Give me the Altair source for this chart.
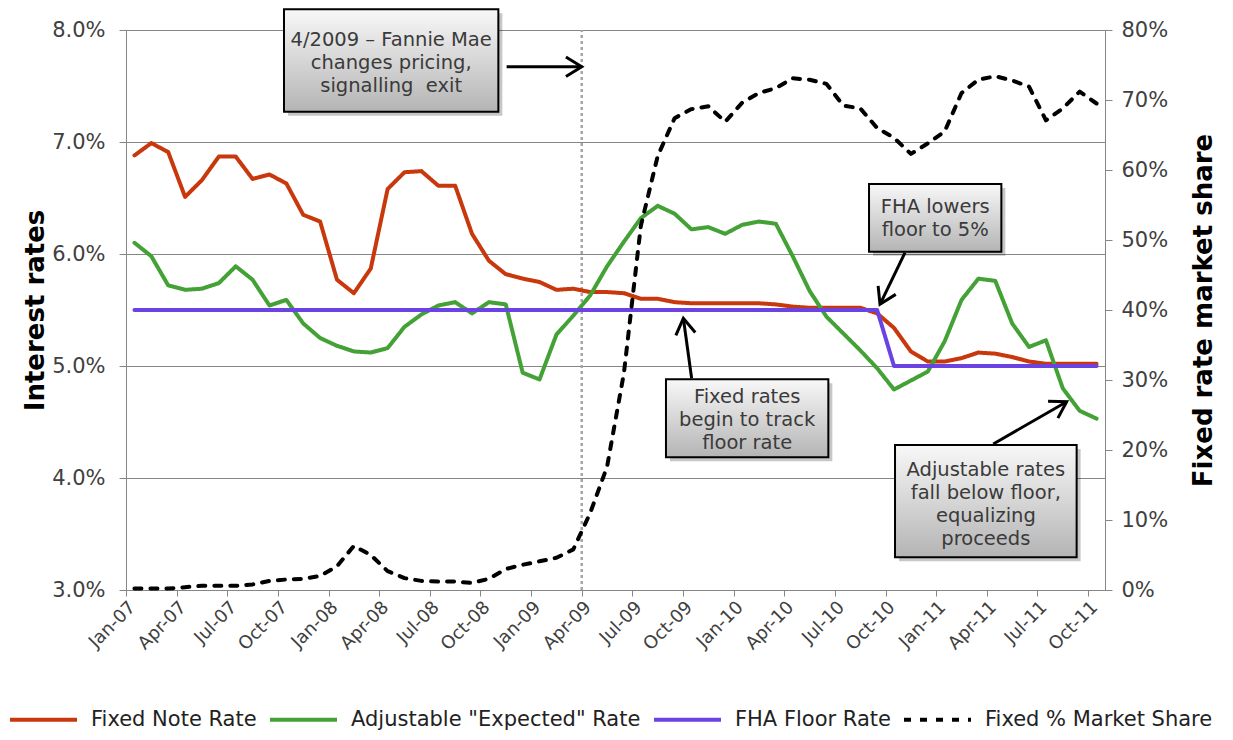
import altair as alt
import pandas as pd

# ---------------- data ----------------
series_names = ["Fixed Note Rate", 'Adjustable "Expected" Rate', "FHA Floor Rate", "Fixed % Market Share"]
series_colors = ["#C8380C", "#43A136", "#6B43E3", "#000000"]

tick_labels = ["Jan-07", "Apr-07", "Jul-07", "Oct-07", "Jan-08", "Apr-08", "Jul-08", "Oct-08",
               "Jan-09", "Apr-09", "Jul-09", "Oct-09", "Jan-10", "Apr-10", "Jul-10", "Oct-10",
               "Jan-11", "Apr-11", "Jul-11", "Oct-11"]

fixed_note = [6.88, 6.99, 6.91, 6.51, 6.66, 6.87, 6.87, 6.67, 6.71, 6.63,
              6.35, 6.29, 5.77, 5.65, 5.87, 6.58, 6.73, 6.74, 6.61, 6.61,
              6.18, 5.94, 5.82, 5.78, 5.75, 5.68, 5.69, 5.66, 5.66, 5.65,
              5.60, 5.60, 5.57, 5.56, 5.56, 5.56, 5.56, 5.56, 5.55, 5.53,
              5.52, 5.52, 5.52, 5.52, 5.47, 5.34, 5.13, 5.04, 5.04, 5.07,
              5.12, 5.11, 5.08, 5.04, 5.02, 5.02, 5.02, 5.02]

adjustable = [6.10, 5.98, 5.72, 5.68, 5.69, 5.74, 5.89, 5.77, 5.54, 5.59,
              5.38, 5.25, 5.18, 5.13, 5.12, 5.16, 5.35, 5.46, 5.54, 5.57,
              5.47, 5.57, 5.55, 4.94, 4.88, 5.28, 5.45, 5.63, 5.89, 6.11,
              6.32, 6.43, 6.36, 6.22, 6.24, 6.18, 6.26, 6.29, 6.27, 5.98,
              5.67, 5.44, 5.29, 5.14, 4.98, 4.79, 4.87, 4.95, 5.22, 5.59,
              5.78, 5.76, 5.38, 5.17, 5.23, 4.80, 4.60, 4.53]

fha_floor = [5.5] * 45 + [5.0] * 13

market_share = [0.2, 0.2, 0.2, 0.4, 0.6, 0.6, 0.6, 0.8, 1.3, 1.5,
                1.6, 2.0, 3.4, 6.3, 5.0, 2.7, 1.7, 1.3, 1.2, 1.2,
                1.0, 1.6, 3.0, 3.6, 4.1, 4.6, 5.8, 11.0, 17.6, 31.0,
                52.0, 62.0, 67.4, 68.7, 69.1, 66.9, 69.6, 71.0, 71.7, 73.1,
                72.9, 72.3, 69.2, 68.8, 66.0, 64.6, 62.3, 63.8, 65.5, 71.0,
                72.9, 73.4, 72.8, 71.9, 67.1, 68.8, 71.2, 69.5]

# annotations (positions in data units: month index, interest rate)
ann_text = ["4/2009 \u2013 Fannie Mae\nchanges pricing,\nsignalling\u00a0 exit",
            "FHA lowers\nfloor to 5%",
            "Fixed rates\nbegin to track\nfloor rate",
            "Adjustable rates\nfall below floor,\nequalizing\nproceeds"]
box_x1 = [9.36, 44.02, 31.99, 45.56]
box_x2 = [22.06, 51.86, 41.61, 56.32]
box_y1 = [8.185, 6.625, 4.881, 4.295]
box_y2 = [7.270, 6.020, 4.185, 3.292]
text_x = [15.71, 47.94, 36.80, 50.94]
text_y = [7.911, 6.422, 4.726, 4.071]   # first line of each label
arrow_x1 = [22.55, 46.15, 33.51, 51.38]
arrow_y1 = [7.672, 6.012, 4.890, 4.304]
arrow_x2 = [27.00, 44.67, 33.02, 55.73]
arrow_y2 = [7.672, 5.551, 5.426, 4.681]
arrow_angle = [0, 116, 262, 330]
event_month = [27]   # Apr-09 boundary

n_months = len(fixed_note)

# ---------------- tables ----------------
rates_rows = []
for name, vals in zip(series_names[:3], [fixed_note, adjustable, fha_floor]):
    for i, v in enumerate(vals):
        rates_rows.append({"x": i + 0.5, "value": v, "series": name})
rates_df = pd.DataFrame(rates_rows)
share_df = pd.DataFrame({"x": [i + 0.5 for i in range(n_months)], "value": market_share,
                         "series": series_names[3]})
boxes_df = pd.DataFrame({"x1": box_x1, "x2": box_x2, "y1": box_y1, "y2": box_y2})
text_df = pd.DataFrame({"x": text_x, "y": text_y, "label": ann_text})
arrows_df = pd.DataFrame({"x1": arrow_x1, "y1": arrow_y1, "x2": arrow_x2, "y2": arrow_y2,
                          "angle": arrow_angle})
vline_df = pd.DataFrame({"x": event_month, "lo": [3.0], "hi": [8.0]})

FONT = "DejaVu Sans"
AXIS_GRAY = "#868686"

label_array = "[" + ",".join("'%s'" % t for t in tick_labels) + "]"
x_scale = alt.Scale(domain=[0, n_months], nice=False, zero=False)
x_axis = alt.Axis(values=[3 * k for k in range(len(tick_labels))],
                  labelExpr=label_array + "[round(datum.value/3)]",
                  title=None, labelAngle=-45, labelFontSize=18, labelFont=FONT,
                  labelColor="#404040", domainColor=AXIS_GRAY, tickColor=AXIS_GRAY,
                  tickSize=6, labelPadding=2, grid=False, labelOverlap=False, labelFlush=False)

yl_scale = alt.Scale(domain=[3, 8], nice=False, zero=False)
yl_axis = alt.Axis(values=[3, 4, 5, 6, 7, 8], labelExpr="format(datum.value, '.1f') + '%'",
                   title="Interest rates", titleFont=FONT, titleFontSize=26, titleFontWeight="bold",
                   titleColor="#000000", titleAngle=270, titleX=-91, titleY=280,
                   titleAlign="center", titleBaseline="middle",
                   labelFontSize=21, labelFont=FONT, labelColor="#404040", labelPadding=14,
                   domainColor=AXIS_GRAY, tickColor=AXIS_GRAY, tickSize=7,
                   grid=True, gridColor=AXIS_GRAY, gridWidth=1)

yr_scale = alt.Scale(domain=[0, 80], nice=False, zero=False)
yr_axis = alt.Axis(orient="right", values=[10 * k for k in range(9)],
                   labelExpr="datum.value + '%'",
                   title="Fixed rate market share", titleFont=FONT, titleFontSize=26,
                   titleFontWeight="bold", titleColor="#000000", titleAngle=270,
                   titleX=98, titleY=280, titleAlign="center", titleBaseline="middle",
                   labelFontSize=21, labelFont=FONT, labelColor="#404040", labelPadding=9,
                   domainColor=AXIS_GRAY, tickColor=AXIS_GRAY, tickSize=7, grid=False)

legend = alt.Legend(orient="none", legendX=-118, legendY=654, direction="horizontal",
                    title=None, symbolType="stroke", symbolStrokeWidth=4, symbolSize=4489,
                    labelFontSize=21, labelFont=FONT, labelColor="#222222", labelLimit=500,
                    columnPadding=5, labelOffset=12, padding=0)

color_enc = alt.Color("series:N", scale=alt.Scale(domain=series_names, range=series_colors),
                      legend=legend)
dash_enc = alt.StrokeDash("series:N",
                          scale=alt.Scale(domain=series_names,
                                          range=[[1, 0], [1, 0], [1, 0], [7, 9]]),
                          legend=legend)


def X(field):
    return alt.X(field, type="quantitative", scale=x_scale, axis=x_axis)


def YL(field):
    return alt.Y(field, type="quantitative", scale=yl_scale, axis=yl_axis)


vline = alt.Chart(vline_df).mark_rule(color="#A6A6A6", strokeWidth=2.5, strokeDash=[3, 3]).encode(
    x=X("x"), y=YL("lo"), y2="hi")

rate_lines = alt.Chart(rates_df).mark_line(strokeWidth=4, strokeJoin="round", strokeCap="round").encode(
    x=X("x"), y=YL("value"), color=color_enc, strokeDash=dash_enc)

shadows = alt.Chart(boxes_df).mark_rect(color="#000000", opacity=0.22, xOffset=4, x2Offset=4,
                                         yOffset=4, y2Offset=4).encode(
    x=X("x1"), x2="x2", y=YL("y1"), y2="y2")

gradient = {"gradient": "linear", "x1": 0, "y1": 0, "x2": 0, "y2": 1,
            "stops": [{"offset": 0, "color": "#f8f8f8"}, {"offset": 1, "color": "#b4b4b4"}]}
boxes = alt.Chart(boxes_df).mark_rect(fill=gradient, stroke="#000000", strokeWidth=2).encode(
    x=X("x1"), x2="x2", y=YL("y1"), y2="y2")

texts = alt.Chart(text_df).mark_text(font=FONT, fontSize=19.5, color="#3a3a3a", align="center",
                                     baseline="middle", lineBreak="\n", lineHeight=23).encode(
    x=X("x"), y=YL("y"), text="label:N")

shafts = alt.Chart(arrows_df).mark_rule(color="#000000", strokeWidth=3).encode(
    x=X("x1"), x2="x2", y=YL("y1"), y2="y2")

heads = alt.Chart(arrows_df).mark_point(shape="M-1,-0.62L0,0L-1,0.62", filled=False,
                                         color="#000000", strokeWidth=3, size=1000,
                                         strokeJoin="miter", opacity=1).encode(
    x=X("x2"), y=YL("y2"), angle=alt.Angle("angle:Q", scale=None))

left = alt.layer(vline, rate_lines, shadows, boxes, texts, shafts, heads)

share_line = alt.Chart(share_df).mark_line(strokeWidth=4, strokeCap="round", strokeJoin="round").encode(
    x=X("x"), y=alt.Y("value:Q", scale=yr_scale, axis=yr_axis), color=color_enc, strokeDash=dash_enc)

chart = alt.layer(left, share_line).resolve_scale(y="independent").properties(
    width=979, height=560,
    padding={"left": 118, "top": 22, "right": 118, "bottom": 140},
    autosize=alt.AutoSizeParams(type="none"),
    background="white",
).configure_view(stroke=None)

chart.save("out.html", embed_options={"renderer": "svg", "actions": False})
